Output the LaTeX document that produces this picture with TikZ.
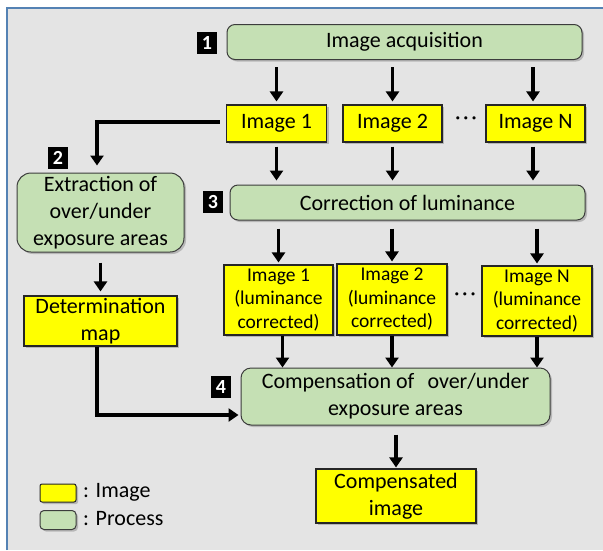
\documentclass[tikz,border=0pt]{standalone}
\usepackage{fontspec}
\setmainfont{Carlito}
\usetikzlibrary{arrows.meta,shadows}
\definecolor{bgray}{RGB}{228,228,228}
\definecolor{frameblue}{RGB}{84,130,180}
\definecolor{procgreen}{RGB}{197,224,180}
\definecolor{imgyellow}{RGB}{255,255,0}
\definecolor{edgegray}{RGB}{60,60,60}
\begin{document}
\begin{tikzpicture}[x=1pt,y=-1pt,
  shd/.style={drop shadow={shadow xshift=2pt,shadow yshift=-2pt,fill=black!45,opacity=0.5}},
  proc/.style={shd,draw=edgegray,line width=1pt,fill=procgreen,rounded corners=8pt,inner sep=0pt,align=center,font=\fontsize{22}{27}\selectfont},
  imgbox/.style={shd,draw=black!85,line width=1.1pt,fill=imgyellow,inner sep=0pt,align=center,font=\fontsize{22}{27}\selectfont},
  cimg/.style={imgbox,font=\fontsize{19.5}{23.5}\selectfont},
  numsq/.style={fill=black,text=white,inner sep=0pt,minimum width=20pt,minimum height=22pt,font=\fontsize{20}{20}\selectfont\bfseries},
  arr/.style={line width=3.5pt,-{Triangle[length=10pt,width=13pt]}},
  dots/.style={inner sep=0pt,font=\fontsize{22}{22}\selectfont},
  legtext/.style={anchor=west,inner sep=0pt,font=\fontsize{22}{27}\selectfont}
]
\useasboundingbox (0,0) rectangle (603,550);
\fill[white] (0,0) rectangle (603,550);
\fill[bgray] (7,8) rectangle (603,550);
\draw[frameblue,line width=1.3pt] (7,550) -- (7,8) -- (603,8);

% step 1
\node[proc,minimum width=355pt,minimum height=35pt] (acq) at (404.5,42) {Image acquisition};
\node[numsq] (n1) at (207,43) {1};

\node[imgbox,minimum width=100pt,minimum height=37pt] (img1) at (276.5,123.5) {Image 1};
\node[imgbox,minimum width=99pt,minimum height=37pt] (img2) at (392.5,123.5) {Image 2};
\node[imgbox,minimum width=99pt,minimum height=37pt] (imgN) at (535.5,123.5) {Image N};
\node[dots] (d1) at (466,121) {·\hspace{2.5pt}·\hspace{2.5pt}·};

% step 3
\node[proc,minimum width=355pt,minimum height=35pt] (corr) at (407.5,202.5) {Correction of luminance};
\node[numsq] (n3) at (213,202) {3};

\node[cimg,minimum width=109pt,minimum height=70pt] (ci1) at (278.5,300) {Image 1\\(luminance\\corrected)};
\node[cimg,minimum width=110pt,minimum height=71pt] (ci2) at (392,299.5) {Image 2\\(luminance\\corrected)};
\node[cimg,minimum width=110pt,minimum height=70pt] (ciN) at (537,301) {Image N\\(luminance\\corrected)};
\node[dots] (d2) at (465,297) {·\hspace{2.5pt}·\hspace{2.5pt}·};

% step 2
\node[proc,rounded corners=14pt,minimum width=167pt,minimum height=79pt] (ext) at (100.5,212.5) {Extraction of\\over/under\\exposure areas};
\node[numsq] (n2) at (58,158) {2};
\node[imgbox,minimum width=153pt,minimum height=50pt] (det) at (100.5,321) {Determination\\map};

% step 4
\node[proc,rounded corners=10pt,minimum width=309pt,minimum height=57pt] (comp) at (395.5,396.5) {Compensation of\hspace{0.6em}over/under\\exposure areas};
\node[numsq] (n4) at (221,387) {4};
\node[imgbox,minimum width=160pt,minimum height=54pt] (out) at (396,496) {Compensated\\image};

% arrows
\foreach \b in {img1,img2}
  \draw[arr,shorten <=7pt,shorten >=3pt] (acq.south -| \b.north) -- (\b.north);
\draw[arr,shorten <=7pt,shorten >=3pt] ([xshift=-2.5pt]acq.south -| imgN.north) -- ([xshift=-2.5pt]imgN.north);
\foreach \b in {img1,img2}
  \draw[arr,shorten <=4pt,shorten >=4pt] (\b.south) -- (\b.south |- corr.north);
\draw[arr,shorten <=4pt,shorten >=4pt] ([xshift=-2.5pt]imgN.south) -- ([xshift=-2.5pt]imgN.south |- corr.north);
\foreach \b in {ci1,ci2,ciN}
  \draw[arr,shorten <=8pt,shorten >=2pt] (corr.south -| \b.north) -- (\b.north);
\draw[arr,shorten >=0pt] ([xshift=4pt]ci1.south) -- ([xshift=4pt]ci1.south |- comp.north);
\draw[arr,shorten >=0pt] (ci2.south) -- (ci2.south |- comp.north);
\draw[arr,shorten >=0pt] (ciN.south) -- (ciN.south |- comp.north);
\draw[arr,shorten <=9pt,shorten >=1pt] (comp.south -| out.north) -- (out.north);

\draw[arr,shorten >=7pt] ([xshift=-6pt,yshift=1.5pt]img1.west) -| ([xshift=-3.5pt]ext.north);
\draw[arr,shorten <=10pt,shorten >=4pt] (ext.south) -- (det.north);
\draw[arr,shorten >=2pt] ([xshift=-3.5pt]det.south) |- ([yshift=-18.5pt]comp.west);

% legend
\node[shd,draw=black!85,line width=1pt,fill=imgyellow,rounded corners=2pt,minimum width=36pt,minimum height=18pt,inner sep=0pt] (lgI) at (58,493) {};
\node[shd,draw=edgegray,line width=1pt,fill=procgreen,rounded corners=4pt,minimum width=36pt,minimum height=19pt,inner sep=0pt] (lgP) at (58,520) {};
\node[legtext] (lgIt) at (83,492) {: Image};
\node[legtext] (lgPt) at (83,519) {: Process};
\end{tikzpicture}
\end{document}
